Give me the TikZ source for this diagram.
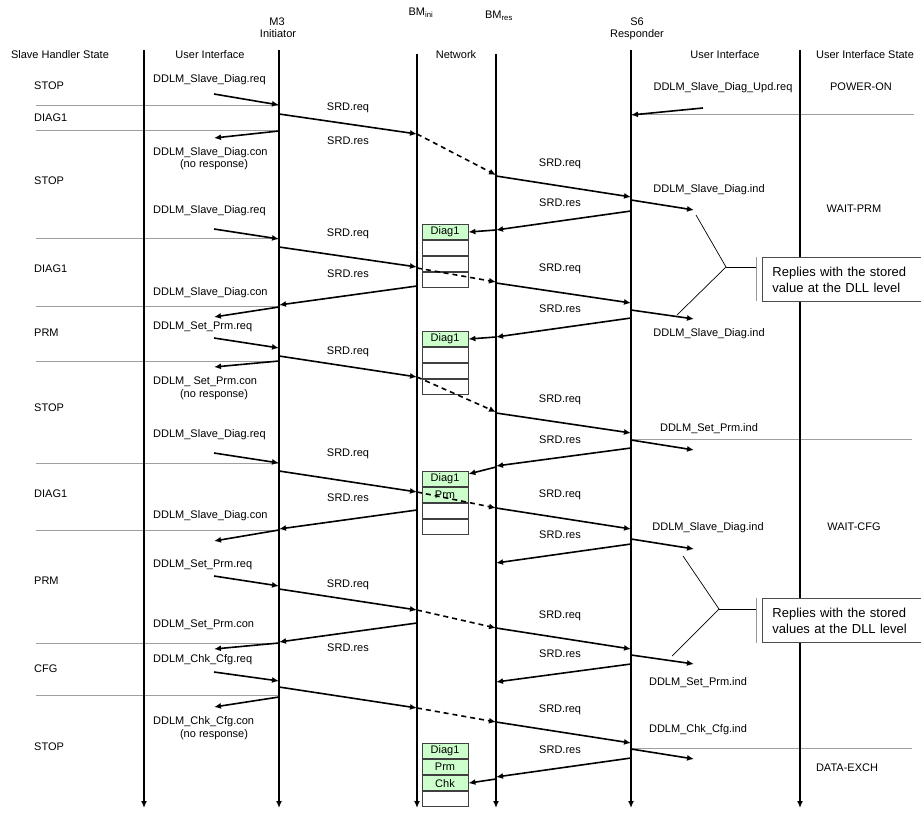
\documentclass[tikz,border=0pt]{standalone}
\usepackage{fontspec}
\setmainfont{Liberation Sans}
\usetikzlibrary{arrows.meta}
\definecolor{cellgreen}{HTML}{CCFFCC}
\begin{document}
\begin{tikzpicture}[x=1pt,y=-1pt,
  lbl/.style={font=\fontsize{11}{13}\selectfont, inner sep=0pt, text height=7.9pt, text depth=0pt},
  lblw/.style={lbl, anchor=west},
  life/.style={line width=1.6pt, -{Latex[length=7pt,width=6pt]}},
  msg/.style={line width=1.6pt, -{Latex[length=7pt,width=6pt]}},
  netmsg/.style={msg, dash pattern=on 5pt off 4pt},
  sep/.style={gray!75, line width=0.8pt},
  cell/.style={draw=black!75, line width=0.8pt, minimum width=46pt, minimum height=15.25pt,
    inner sep=0pt, anchor=north, font=\fontsize{11}{13}\selectfont},
  fullcell/.style={cell, fill=cellgreen},
  lead/.style={line width=0.7pt},
  bracket/.style={gray!80, line width=0.8pt},
  notebox/.style={draw=black!70, fill=white, line width=0.8pt, anchor=north west,
    minimum height=44pt, text width=153pt, inner xsep=10pt, align=left,
    font=\fontsize{13}{16}\selectfont}
]
\useasboundingbox (0,0) rectangle (921,816);

% lifeline positions
\foreach \n/\x/\t in {UIL/144/50, M3/279/50, Ni/417/54, Nr/496/54, S6/631/50, UIR/800/50} {
  \coordinate (\n-top) at (\x,\t);
  \coordinate (\n-end) at (\x,808);
}
\coordinate (uL) at (214,0);
\coordinate (uR) at (694,0);
\coordinate (upd) at (703,108);

% state separators
\foreach \y in {105,130,238,306,361,463,530,643,695}
  \draw[sep] (36,\y) -- (M3-top |- 0,\y);
\draw[sep] (S6-top |- 0,114) -- (914,114);
\draw[sep] (S6-top |- 0,439) -- (912,439);
\draw[sep] (S6-top |- 0,748) -- (912,748);

% lifelines
\foreach \n in {UIL,M3,Ni,Nr,S6,UIR}
  \draw[life] (\n-top) -- (\n-end);

% column headings
\node[lbl] (hSH) at (60,55) {Slave Handler State};
\node[lbl] (hUI1) at (210,55) {User Interface};
\node[lbl] (hM3) at (277,22) {M3};
\node[lbl] (hIni) at (278,34) {Initiator};
\node[lbl] (hBMi) at (421,12) {BM\textsubscript{ini}};
\node[lbl] (hNet) at (456,55) {Network};
\node[lbl] (hBMr) at (499,15) {BM\textsubscript{res}};
\node[lbl] (hS6) at (637,22) {S6};
\node[lbl] (hResp) at (637,34) {Responder};
\node[lbl] (hUI2) at (725,55) {User Interface};
\node[lbl] (hUIS) at (865,55) {User Interface State};

% slave handler states
\foreach \s/\y [count=\i] in {STOP/86, DIAG1/118, STOP/181, DIAG1/269, PRM/333, STOP/408,
    DIAG1/494, PRM/581, CFG/669, STOP/747}
  \node[lblw] (st\i) at (34,\y) {\s};

% user interface states
\node[lbl] (us1) at (861,87) {POWER-ON};
\node[lbl] (us2) at (854,209) {WAIT-PRM};
\node[lbl] (us3) at (854,527) {WAIT-CFG};
\node[lbl] (us4) at (847,768) {DATA-EXCH};

% initiator service primitives
\node[lblw] (p1) at (153,79) {DDLM\_Slave\_Diag.req};
\node[lblw] (p2) at (153,152) {DDLM\_Slave\_Diag.con};
\node[lbl] (p2n) at (214,164) {(no response)};
\node[lblw] (p3) at (153,210) {DDLM\_Slave\_Diag.req};
\node[lblw] (p4) at (153,292) {DDLM\_Slave\_Diag.con};
\node[lblw] (p5) at (153,326) {DDLM\_Set\_Prm.req};
\node[lblw] (p6) at (153,381) {DDLM\_ Set\_Prm.con};
\node[lbl] (p6n) at (214,394) {(no response)};
\node[lblw] (p7) at (153,434) {DDLM\_Slave\_Diag.req};
\node[lblw] (p8) at (153,515) {DDLM\_Slave\_Diag.con};
\node[lblw] (p9) at (153,564) {DDLM\_Set\_Prm.req};
\node[lblw] (p10) at (153,624) {DDLM\_Set\_Prm.con};
\node[lblw] (p11) at (153,659) {DDLM\_Chk\_Cfg.req};
\node[lblw] (p12) at (153,721) {DDLM\_Chk\_Cfg.con};
\node[lbl] (p12n) at (214,734) {(no response)};

% responder service primitives
\node[lbl] (r1) at (723,87) {DDLM\_Slave\_Diag\_Upd.req};
\node[lbl] (r2) at (709,189) {DDLM\_Slave\_Diag.ind};
\node[lbl] (r3) at (709,333) {DDLM\_Slave\_Diag.ind};
\node[lbl] (r4) at (709,428) {DDLM\_Set\_Prm.ind};
\node[lbl] (r5) at (708,527) {DDLM\_Slave\_Diag.ind};
\node[lbl] (r6) at (698,682) {DDLM\_Set\_Prm.ind};
\node[lbl] (r7) at (698,729) {DDLM\_Chk\_Cfg.ind};

% SRD frame labels
\foreach \t/\y [count=\i] in {req/107, res/141, req/233, res/274, req/351, req/453, res/498,
    req/584, res/648}
  \node[lbl] (sl\i) at (348,\y) {SRD.\t};
\foreach \t/\y [count=\i] in {req/163, res/203, req/268, res/309, req/399, res/440, req/494,
    res/535, req/615, res/654, req/709, res/750}
  \node[lbl] (sr\i) at (560,\y) {SRD.\t};

% buffered responses at the initiator's bus monitor
\node[fullcell] (b1a) at (445,224) {Diag1};
\node[cell] (b1b) at (b1a.south) {};
\node[cell] (b1c) at (b1b.south) {};
\node[cell] (b1d) at (b1c.south) {};

\node[fullcell] (b2a) at (445,331) {Diag1};
\node[cell] (b2b) at (b2a.south) {};
\node[cell] (b2c) at (b2b.south) {};
\node[cell] (b2d) at (b2c.south) {};

\node[fullcell] (b3a) at (445,471) {Diag1};
\node[fullcell] (b3b) at (b3a.south) {Prm};
\node[cell] (b3c) at (b3b.south) {};
\node[cell] (b3d) at (b3c.south) {};

\node[fullcell] (b4a) at (445,743) {Diag1};
\node[fullcell] (b4b) at (b4a.south) {Prm};
\node[fullcell] (b4c) at (b4b.south) {Chk};
\node[cell] (b4d) at (b4c.south) {};

% user interface <-> initiator
\foreach \a/\b in {94/105, 229/239, 338/348, 453/463, 576/586, 672/681}
  \draw[msg] (uL |- 0,\a) -- (M3-top |- 0,\b);
\foreach \a/\b in {131/138, 307/317, 361/367, 530/541, 643/649, 697/707}
  \draw[msg] (M3-top |- 0,\a) -- (uL |- 0,\b);

% initiator <-> network
\foreach \a/\b in {114/134, 247/267, 356/377, 471/492, 589/610, 687/708}
  \draw[msg] (M3-top |- 0,\a) -- (Ni-top |- 0,\b);
\foreach \a/\b in {286/305, 510/529, 623/642}
  \draw[msg] (Ni-top |- 0,\a) -- (M3-top |- 0,\b);

% frames on the bus
\foreach \a/\b in {134/175, 268/282, 377/412, 492/508, 610/628, 708/722}
  \draw[netmsg] (Ni-top |- 0,\a) -- (Nr-top |- 0,\b);

% network <-> responder
\foreach \a/\b in {176/197, 283/303, 413/433, 508/529, 628/649, 722/743}
  \draw[msg] (Nr-top |- 0,\a) -- (S6-top |- 0,\b);
\foreach \a/\b in {211/230, 318/337, 448/466, 544/563, 664/682, 758/777}
  \draw[msg] (S6-top |- 0,\a) -- (Nr-top |- 0,\b);

% responses stored in the buffer
\draw[msg] (Nr-top |- 0,230) -- (b1a.east);
\draw[msg] (Nr-top |- 0,337) -- (b2a.east);
\draw[msg] (Nr-top |- 0,467) -- ([yshift=5pt]b3a.east);
\draw[msg] (Nr-top |- 0,779) -- (b4c.east);

% responder <-> user interface
\draw[msg] (upd) -- (S6-top |- 0,115);
\foreach \a/\b in {200/210, 310/319, 440/450, 539/549, 655/664, 749/759}
  \draw[msg] (S6-top |- 0,\a) -- (uR |- 0,\b);

% first remark
\coordinate (v1) at (726,267);
\draw[lead] (696,215) -- (v1) -- (677,315);
\draw[lead] (v1) -- (756,267);
\draw[bracket] (756,257) -- (756,301);
\node[notebox] (n1) at (762,257) {Replies with the stored\\value at the DLL level};

% second remark
\coordinate (v2) at (719,609);
\draw[lead] (683,556) -- (v2) -- (672,656);
\draw[lead] (v2) -- (756,609);
\draw[bracket] (756,598) -- (756,643);
\node[notebox] (n2) at (762,598) {Replies with the stored\\values at the DLL level};
\end{tikzpicture}
\end{document}
